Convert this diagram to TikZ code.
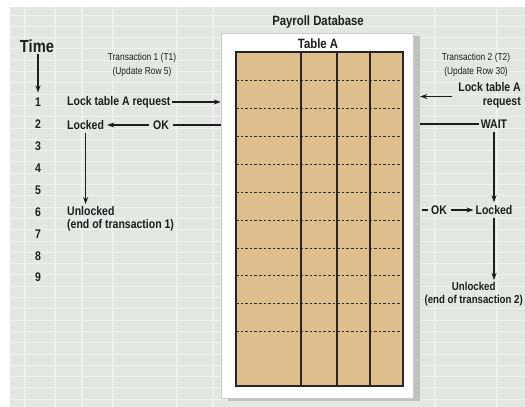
\documentclass[tikz,border=0pt]{standalone}
\usepackage{fontspec}
\setmainfont[FakeStretch=0.84]{Liberation Sans}
\usetikzlibrary{arrows.meta}
\definecolor{bgc}{HTML}{E2E7E2}
\definecolor{gridc}{HTML}{EEF1EE}
\definecolor{tanc}{HTML}{DEBE8C}
\definecolor{shad}{HTML}{BFC3BF}
\definecolor{inkc}{HTML}{1E1E1E}
\begin{document}
\begin{tikzpicture}[x=1pt,y=-1pt,
  lbl/.style={font=\bfseries\fontsize{12.5}{13.5}\selectfont, inner sep=0pt, text=inkc},
  numlbl/.style={font=\bfseries\fontsize{12.5}{13.5}\selectfont, inner sep=0pt, text=inkc},
  small/.style={font=\fontsize{10}{13.5}\selectfont, align=center, inner sep=0pt, text=inkc},
  ttl/.style={font=\bfseries\fontsize{13.5}{14}\selectfont, inner sep=0pt, text=inkc},
  arr/.style={-{Stealth[length=7pt,width=5pt]}, line width=1.1pt, draw=inkc},
  ln/.style={line width=1.1pt, draw=inkc},
  rowline/.style={line width=1.5pt, draw=black!80, dash pattern=on 2.6pt off 2pt},
  colline/.style={line width=1.1pt, draw=black!85}]
\useasboundingbox (0,0) rectangle (525,407);
\clip (0,0) rectangle (525,407);
% background
\fill[white] (0,0) rectangle (525,407);
\fill[bgc] (10,7) rectangle (525,407);
\foreach \yy in {15,26.3,37.6,48.9,60.2,71.5,82.8,94.1,105.4,116.7,128,139.3,150.6,161.9,173.2,184.5,195.8,207.1,218.4,229.7,241,252.3,263.6,274.9,286.2,297.5,308.8,320.1,331.4,342.7,354,365.3,376.6,387.9,399.2}
  \draw[gridc, line width=0.9pt] (10,\yy) -- (525,\yy);
\foreach \xx in {25,55,82,113,177,213,435,497}
  \draw[gridc, line width=1.2pt] (\xx,7) -- (\xx,407);
% database panel
\node[draw=none, fill=shad, minimum width=192pt, minimum height=365pt, inner sep=0pt] (shadow) at (324,218) {};
\node[draw=black!20, fill=white, line width=0.6pt, minimum width=192pt, minimum height=365pt, inner sep=0pt] (panel) at (317,215.5) {};
\node[ttl] (dbtitle) at (318,22) {Payroll Database};
\node[ttl] (tabtitle) at (318,44) {Table A};
% table
\node[draw=black!85, fill=tanc, line width=1.3pt, minimum width=167pt, minimum height=334pt, inner sep=0pt] (table) at (319.5,219) {};
\foreach \yy in {80.5,108.5,136.5,164.5,192.5,220.5,248.5,275.5,303.5,331.5}
  \draw[rowline] (236,\yy) -- (403,\yy);
\foreach \xx in {301,337,370}
  \draw[colline] (\xx,52) -- (\xx,386);
% time axis
\node[font=\bfseries\fontsize{17.5}{18}\selectfont, inner sep=0pt, text=inkc] (time) at (37,46) {Time};
\foreach \n/\yy in {1/102,2/124,3/146,4/168,5/190,6/212,7/234,8/256,9/277}
  \node[numlbl] (n\n) at (38,\yy) {\n};
\draw[arr] (38,54) -- ([yshift=5pt]n1.north);
% transaction 1
\node[small] (t1) at (142,65) {Transaction 1 (T1)\\(Update Row 5)};
\node[lbl, anchor=west] (lock1) at (67,102) {Lock table A request};
\draw[arr] ([xshift=1pt]lock1.east) -- (lock1.east -| panel.west);
\node[lbl, anchor=west] (locked1) at (67,125) {Locked};
\node[lbl] (ok1) at (161,125) {OK};
\draw[arr] ([xshift=-4pt]ok1.west) -- ([xshift=3pt]locked1.east);
\draw[ln] ([xshift=4pt]ok1.east) -- (ok1.east -| panel.west);
\node[lbl, anchor=north west, align=left] (unl1) at (67,206) {Unlocked\\(end of transaction 1)};
\draw[arr] ([yshift=-3pt]locked1.south) -- ([yshift=2pt]unl1.north -| locked1.south);
% transaction 2
\node[small] (t2) at (476,65) {Transaction 2 (T2)\\(Update Row 30)};
\node[lbl, anchor=east, align=right] (lock2) at (521,95.5) {Lock table A\\request};
\draw[arr] ([xshift=-6pt,yshift=-1pt]lock2.west) -- ([yshift=-1pt]lock2.west -| shadow.east);
\node[lbl] (wait) at (494,124) {WAIT};
\draw[ln] ([xshift=-2pt]wait.west) -- (wait.west -| shadow.east);
\node[lbl] (ok2) at (439,210) {OK};
\node[lbl] (locked2) at (494,210) {Locked};
\draw[ln] ([xshift=2pt]ok2.west -| shadow.east) -- ([xshift=-3pt]ok2.west);
\draw[arr] ([xshift=4pt]ok2.east) -- ([xshift=-2pt]locked2.west);
\draw[arr] ([yshift=-3pt]wait.south -| locked2.north) -- ([yshift=3pt]locked2.north);
\node[lbl, anchor=north east, align=center, font=\bfseries\fontsize{11.5}{13}\selectfont] (unl2) at (523,282) {Unlocked\\(end of transaction 2)};
\draw[arr] ([yshift=-3pt]locked2.south) -- ([yshift=2pt]unl2.north -| locked2.south);
\end{tikzpicture}
\end{document}
